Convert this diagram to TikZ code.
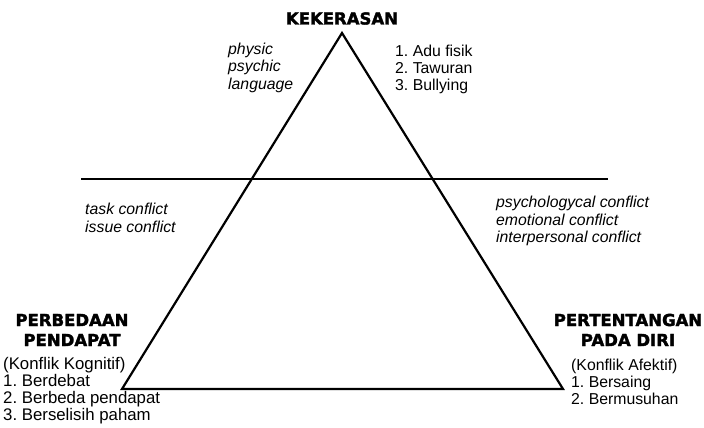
\documentclass[tikz,border=0pt]{standalone}
\usepackage{fontspec}
\setmainfont{Liberation Sans}
\newfontfamily\titlefont[FakeBold=2]{DejaVu Sans}
\frenchspacing

\begin{document}
\begin{tikzpicture}[x=1pt,y=-1pt,
    side/.style={line width=2.2pt},
    title/.style={font=\titlefont\bfseries\fontsize{16.5}{20}\selectfont, align=center, inner sep=0pt},
    kind/.style={font=\itshape\fontsize{15.8}{17.5}\selectfont, align=left, inner sep=0pt},
    items/.style={font=\fontsize{15.8}{17}\selectfont, align=left, inner sep=0pt}]
    \useasboundingbox (0,0) rectangle (704,428);

    % Triangle
    \coordinate (apex) at (342,33);
    \coordinate (baseL) at (122,389);
    \coordinate (baseR) at (563,389);
    \draw[side] (baseL) -- (apex) -- (baseR) -- cycle;

    % Dividing line
    \coordinate (lineL) at (81,179);
    \coordinate (lineR) at (608,179);
    \draw[side] (lineL) -- (lineR);

    % Top - Kekerasan (base = last line)
    \node[title, anchor=base] (kekerasan) at (342,24.5) {KEKERASAN};
    \node[kind, anchor=base west] (kinds) at (228,89) {physic\\psychic\\language};
    \node[items, anchor=base west] (acts) at (395,90) {1. Adu fisik\\2. Tawuran\\3. Bullying};

    % Middle - conflict types
    \node[kind, anchor=base west] (cognitive) at (85,232) {task conflict\\issue conflict};
    \node[kind, anchor=base west] (affective) at (496,242.5) {psychologycal conflict\\emotional conflict\\interpersonal conflict};

    % Bottom left - Perbedaan pendapat
    \node[title, anchor=base] (perbedaan) at (72,346) {PERBEDAAN\\PENDAPAT};
    \node[items, font=\fontsize{16.8}{16.7}\selectfont, anchor=base west] (kognitif) at (3,420)
        {(Konflik Kognitif)\\1. Berdebat\\2. Berbeda pendapat\\3. Berselisih paham};

    % Bottom right - Pertentangan pada diri
    \node[title, anchor=base] (pertentangan) at (628,346) {PERTENTANGAN\\PADA DIRI};
    \node[items, anchor=base west] (afektif) at (571,404)
        {(Konflik Afektif)\\1. Bersaing\\2. Bermusuhan};
\end{tikzpicture}
\end{document}
